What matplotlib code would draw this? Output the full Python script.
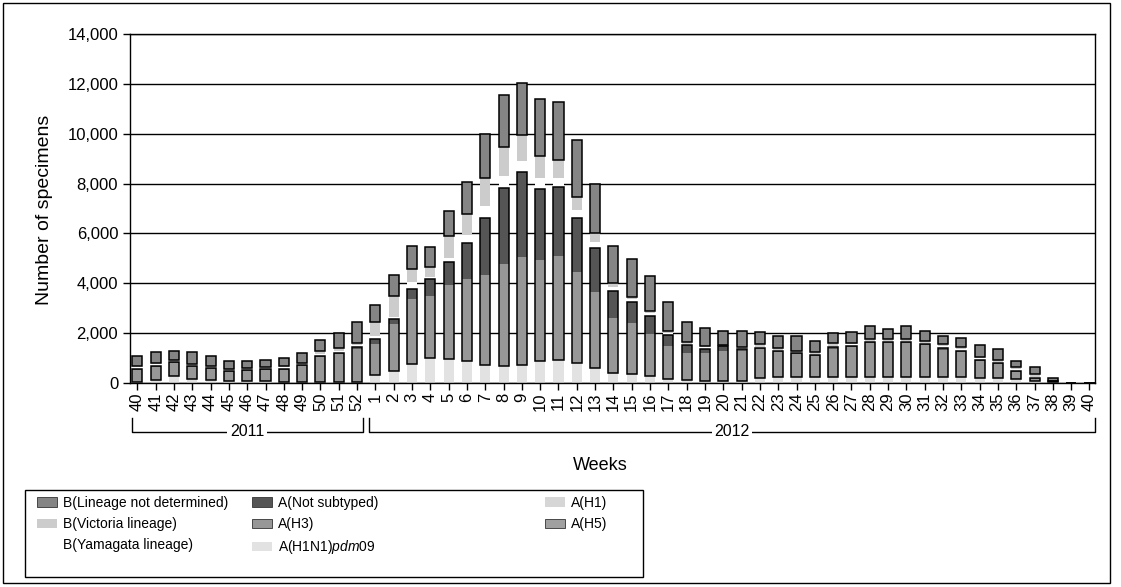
import numpy as np
import matplotlib.pyplot as plt
from matplotlib.patches import Patch, Rectangle

plt.rcParams['font.family'] = ['Liberation Sans', 'DejaVu Sans']
plt.rcParams['mathtext.fontset'] = 'custom'
plt.rcParams['mathtext.rm'] = 'Liberation Sans'
plt.rcParams['mathtext.it'] = 'Liberation Sans:italic'

weeks = [str(w) for w in range(40, 53)] + [str(w) for w in range(1, 41)]

# specimens per week, 2011 wk40 - 2012 wk40
pdm09 = [50, 135, 300, 160, 135, 100, 90, 70, 60, 50, 50, 50, 50,
         340, 500, 770, 1000, 950, 880, 740, 700, 740, 880, 920, 810, 610, 400,
         380, 270, 160, 140, 70, 70, 70, 200, 250, 250, 250, 250, 250, 250,
         250, 250, 250, 250, 250, 200, 200, 150, 100, 50, 0, 0]
h1 = [0] * 53
h3 = [490, 520, 510, 470, 430, 360, 383, 457, 480, 652, 990, 1110, 1300,
      1215, 1860, 2620, 2480, 2970, 3310, 3580, 4090, 4320, 4050, 4190, 3650, 3040, 2190,
      2030, 1690, 1330, 1080, 1120, 1220, 1200, 1150, 1000, 900, 840, 1130, 1200,
      1350, 1350, 1350, 1270, 1090, 1000, 690, 550, 300, 80, 20, 0, 0]
h5 = [0] * 53
not_subtyped = [40, 47, 40, 45, 42, 40, 40, 40, 40, 40, 40, 55, 108,
                230, 200, 380, 700, 940, 1420, 2320, 3040, 3420, 2840, 2760, 2160, 1760, 1090,
                840, 740, 430, 300, 190, 180, 80, 50, 40, 50, 40, 50, 50,
                50, 50, 50, 50, 50, 50, 50, 50, 50, 20, 0, 0, 0]
yamagata = [50, 50, 30, 50, 30, 40, 50, 40, 50, 30, 80, 80, 60,
            110, 90, 280, 60, 140, 340, 470, 470, 430, 450, 350, 340, 240, 160,
            110, 100, 100, 50, 50, 30, 40, 60, 50, 40, 40, 60, 50,
            50, 50, 50, 50, 80, 50, 50, 60, 50, 50, 0, 0, 0]
victoria = [45, 58, 50, 58, 38, 40, 44, 41, 45, 38, 122, 122, 102,
            540, 830, 530, 420, 880, 840, 1120, 1180, 1050, 900, 730, 500, 360, 180,
            90, 70, 80, 60, 60, 20, 50, 100, 60, 60, 70, 110, 60,
            50, 50, 50, 50, 100, 100, 60, 80, 90, 110, 30, 0, 0]
b_nd = [405, 432, 350, 472, 405, 297, 270, 270, 337, 378, 432, 581, 810,
        700, 870, 900, 780, 1040, 1260, 1760, 2090, 2080, 2260, 2310, 2270, 1960, 1490,
        1520, 1420, 1170, 810, 700, 580, 630, 470, 470, 600, 450, 400, 450,
        520, 400, 520, 430, 300, 350, 480, 410, 250, 280, 100, 0, 0]

c_pdm, c_h1, c_h3, c_h5 = '#e2e2e2', '#d6d6d6', '#979797', '#a0a0a0'
c_ns, c_yam, c_vic, c_bnd = '#555555', '#ffffff', '#cccccc', '#858585'

fig = plt.figure(figsize=(11.21, 5.87), dpi=100)
ax = fig.add_axes([0.116, 0.3475, 0.8608, 0.5945])

x = np.arange(len(weeks))
w = 0.55
bottom = np.zeros(len(x))
layers = [(pdm09, c_pdm), (h1, c_h1), (h3, c_h3), (h5, c_h5),
          (not_subtyped, c_ns), (yamagata, c_yam), (victoria, c_vic)]
for vals, col in layers:
    ax.bar(x, vals, w, bottom=bottom, color=col, linewidth=0, zorder=2)
    bottom += np.array(vals)
ax.bar(x, b_nd, w, bottom=bottom, color=c_bnd, edgecolor='black', linewidth=1.1, zorder=3)

# outline around the influenza A block
a_base = np.array(pdm09) + np.array(h1)
a_height = np.array(h3) + np.array(h5) + np.array(not_subtyped)
ax.bar(x, a_height, w, bottom=a_base, fill=False, edgecolor='black', linewidth=1.1, zorder=3)

ax.set_xlim(-0.4, 52.3)
ax.set_ylim(0, 14000)
yt = np.arange(0, 14001, 2000)
ax.set_yticks(yt)
ax.set_yticklabels([f'{v:,}' for v in yt], fontsize=12)
ax.set_xticks(x)
ax.set_xticklabels(weeks, rotation=90, fontsize=12)
ax.tick_params(axis='both', direction='out', length=5, width=1, color='black')
ax.tick_params(axis='x', pad=2)
ax.yaxis.grid(True, color='black', linewidth=1, zorder=0)
ax.set_axisbelow(True)
for s in ax.spines.values():
    s.set_linewidth(1)

# year brackets
for x0, x1, label in [(-0.3, 12.3, '2011'), (12.65, 52.3, '2012')]:
    ax.plot([x0, x0, x1, x1], [-0.1, -0.14, -0.14, -0.1], color='black', lw=1,
            transform=ax.get_xaxis_transform(), clip_on=False)
    ax.text((x0 + x1) / 2, -0.14, label, transform=ax.get_xaxis_transform(),
            ha='center', va='center', fontsize=11.5,
            bbox=dict(facecolor='white', edgecolor='none', pad=2))

fig.text(600 / 1121, 1 - 466 / 587, 'Weeks', ha='center', va='center', fontsize=13)
fig.text(45 / 1121, 1 - 210 / 587, 'Number of specimens', ha='center', va='center',
         rotation=90, fontsize=14)

# legend, three columns inside one box
cols = [
    [(Patch(facecolor=c_bnd, edgecolor='#333333', lw=0.6), 'B(Lineage not determined)'),
     (Patch(facecolor=c_vic, edgecolor='none'), 'B(Victoria lineage)'),
     (Patch(facecolor=c_yam, edgecolor='none'), 'B(Yamagata lineage)')],
    [(Patch(facecolor=c_ns, edgecolor='#333333', lw=0.6), 'A(Not subtyped)'),
     (Patch(facecolor=c_h3, edgecolor='#333333', lw=0.6), 'A(H3)'),
     (Patch(facecolor=c_pdm, edgecolor='none'), r'A(H1N1)$\it{pdm09}$')],
    [(Patch(facecolor=c_h1, edgecolor='none'), 'A(H1)'),
     (Patch(facecolor=c_h5, edgecolor='#333333', lw=0.6), 'A(H5)')],
]
for cx, entries in zip([37, 252, 545], cols):
    fig.legend([e[0] for e in entries], [e[1] for e in entries],
               loc='upper left', bbox_to_anchor=(cx / 1121, 1 - 496 / 587),
               frameon=False, fontsize=10, borderpad=0, borderaxespad=0,
               handlelength=1.45, handleheight=0.65, handletextpad=0.45, labelspacing=0.52)
fig.add_artist(Rectangle((25 / 1121, 1 - 577 / 587), 618 / 1121, 87 / 587,
                         transform=fig.transFigure, fill=False, edgecolor='black', lw=1))

# outer frame
fig.add_artist(Rectangle((3 / 1121, 1 - 583 / 587), 1107 / 1121, 580 / 587,
                         transform=fig.transFigure, fill=False, edgecolor='black', lw=1))

fig.savefig('out.png', dpi=100)
